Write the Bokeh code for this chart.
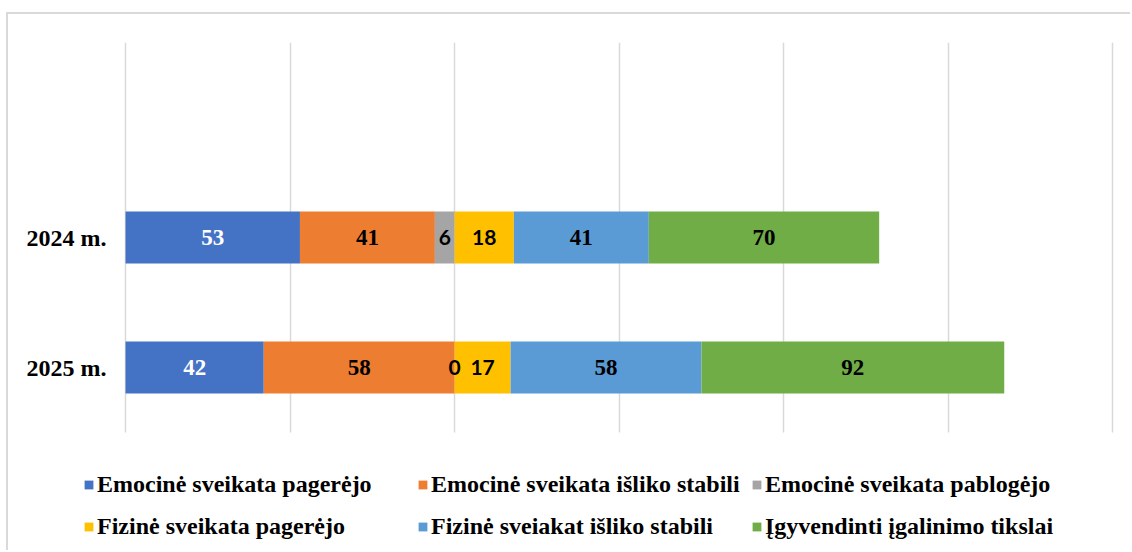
from bokeh.plotting import figure
from bokeh.models import ColumnDataSource, Range1d, FixedTicker, Legend, BoxAnnotation
from bokeh.core.properties import value
from bokeh.embed import file_html
from bokeh.resources import INLINE

categories = ["2024 m.", "2025 m."]
series_names = [
    "Emocinė sveikata pagerėjo",
    "Emocinė sveikata išliko stabili",
    "Emocinė sveikata pablogėjo",
    "Fizinė sveikata pagerėjo",
    "Fizinė sveiakat išliko stabili",
    "Įgyvendinti įgalinimo tikslai",
]
emo_improved = [53, 42]
emo_stable = [41, 58]
emo_worse = [6, 0]
phys_improved = [18, 17]
phys_stable = [41, 58]
goals = [70, 92]
grid_ticks = [0, 50, 100, 150, 200, 250, 300]

series_values = [emo_improved, emo_stable, emo_worse, phys_improved, phys_stable, goals]
colors = ["#4472C4", "#ED7D31", "#A5A5A5", "#FFC000", "#5B9BD5", "#70AD47"]
label_colors = ["white", "black", "black", "black", "black", "black"]
label_fonts = ["Liberation Serif", "Liberation Serif", "Lato", "Lato", "Liberation Serif", "Liberation Serif"]
label_sizes = ["23px", "23px", "21px", "21px", "23px", "23px"]

ypos = [1.5, 0.5]
keys = ["s%d" % i for i in range(len(series_values))]
data = {"y": ypos}
for k, v in zip(keys, series_values):
    data[k] = v
source = ColumnDataSource(data)

p = figure(width=1124, height=538, output_backend="svg", toolbar_location=None,
           x_range=Range1d(-12.77, 300.5), y_range=Range1d(-0.923, 3),
           min_border_left=75, min_border_right=18, min_border_top=28, min_border_bottom=0)
p.outline_line_color = None
p.background_fill_color = "white"
p.border_fill_color = "white"

p.xaxis.visible = False
p.xgrid.ticker = FixedTicker(ticks=grid_ticks)
p.xgrid.grid_line_color = "#d9d9d9"
p.xgrid.grid_line_width = 1.5
p.ygrid.visible = False

# white mask below the plot area (hides grid lines behind the legend)
mask = BoxAnnotation(top=0, fill_color="white", fill_alpha=1, line_alpha=0, level="underlay")
p.add_layout(mask)

renderers = p.hbar_stack(keys, y="y", height=0.4, color=colors, line_color=None, source=source)

# labels
lx, ly, lt, lc, lf, ls = [], [], [], [], [], []
cum = [0] * len(ypos)
for si, vals in enumerate(series_values):
    for ci, v in enumerate(vals):
        lx.append(cum[ci] + v / 2)
        ly.append(ypos[ci])
        lt.append(str(v))
        lc.append(label_colors[si])
        lf.append(label_fonts[si])
        ls.append(label_sizes[si])
        cum[ci] += v
lsrc = ColumnDataSource(dict(x=lx, y=ly, t=lt, c=lc, f=lf, s=ls))
p.text(x="x", y="y", text="t", text_color="c", text_font="f", text_font_size="s",
       text_font_style="bold", text_align="center", text_baseline="middle", source=lsrc)

p.yaxis.ticker = FixedTicker(ticks=ypos)
p.yaxis.major_label_overrides = {y: c for y, c in zip(ypos, categories)}
p.yaxis.axis_line_color = None
p.yaxis.major_tick_line_color = None
p.yaxis.minor_tick_line_color = None
p.yaxis.major_tick_in = 0
p.yaxis.major_tick_out = 0
p.yaxis.major_label_standoff = -23
p.yaxis.major_label_text_font = "Liberation Serif"
p.yaxis.major_label_text_font_style = "bold"
p.yaxis.major_label_text_font_size = "24px"
p.yaxis.major_label_text_color = "black"

# column-major fill with 2 rows: reorder so rows read 0,1,2 / 3,4,5
order = [0, 3, 1, 4, 2, 5]
legend = Legend(items=[(series_names[i], [renderers[i]]) for i in order],
                ncols=3, location=(0, 6))
legend.label_text_font = "Liberation Serif"
legend.label_text_font_style = "bold"
legend.label_text_font_size = "24px"
legend.label_text_color = "black"
legend.glyph_width = 11
legend.glyph_height = 11
legend.label_standoff = 3
legend.label_width = 317
legend.label_height = 39
legend.spacing = 3
legend.padding = 0
legend.margin = 0
legend.border_line_color = None
legend.background_fill_alpha = 0
p.add_layout(legend, "center")

p.styles = {"border-top": "2px solid #d9d9d9", "border-left": "2px solid #d9d9d9",
            "margin-top": "12px", "margin-left": "6px"}

open("out.html", "w").write(file_html(p, INLINE))
